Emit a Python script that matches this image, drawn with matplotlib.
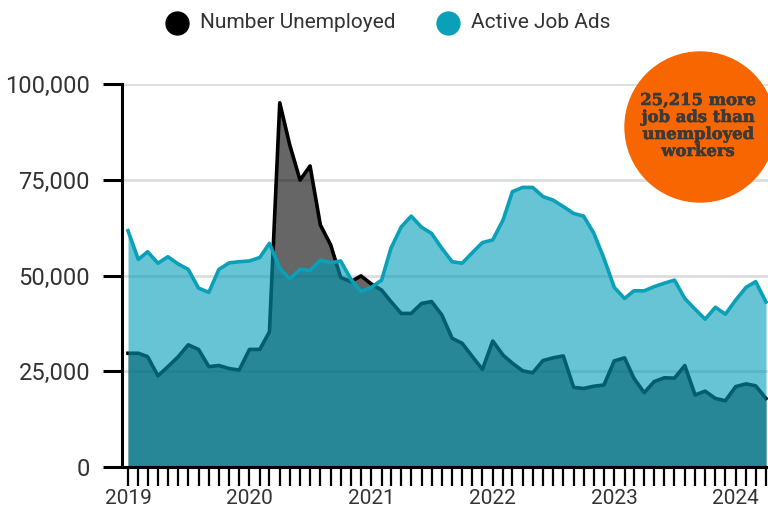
import matplotlib
matplotlib.use("Agg")
import matplotlib.pyplot as plt
import matplotlib.dates as mdates
import matplotlib.patheffects as pe
from matplotlib.patches import Circle
from matplotlib.lines import Line2D
from matplotlib.ticker import FuncFormatter
import pandas as pd

# monthly data, Jan 2019 - Apr 2024
months = pd.date_range("2019-01-01", periods=64, freq="MS")

active_job_ads = [
    61700, 54200, 56200, 53200, 54900, 53000, 51600, 46700, 45600, 51600, 53300, 53600,
    53800, 54700, 58400, 51900, 49100, 51600, 51300, 54000, 53300, 53800, 49000, 45800,
    46900, 48800, 57100, 62700, 65500, 62600, 61000, 57100, 53600, 53200, 56000, 58600,
    59300, 64500, 71900, 73000, 73000, 70600, 69700, 68000, 66200, 65500, 61000, 54500,
    46900, 44000, 46000, 46000, 47100, 48000, 48800, 44000, 41200, 38600, 41700, 39900,
    43600, 46900, 48400, 43100,
]
number_unemployed = [
    29700, 29700, 28800, 23800, 26200, 28800, 31900, 30700, 26200, 26500, 25700, 25300,
    30700, 30700, 35300, 95100, 84100, 74900, 78600, 63200, 58000, 49500, 48400, 49900,
    47800, 46200, 43200, 40100, 40100, 42700, 43200, 39700, 33600, 32300, 28800, 25500,
    32900, 29200, 27100, 25100, 24600, 27800, 28500, 29000, 20800, 20500, 21100, 21400,
    27700, 28500, 23200, 19400, 22300, 23300, 23200, 26500, 18800, 19800, 17900, 17300,
    21000, 21700, 21200, 17885,
]
y_ticks = [0, 25000, 50000, 75000, 100000]
gap = active_job_ads[-1] - number_unemployed[-1]
note = f"{gap:,} more\njob ads than\nunemployed\nworkers"

TEAL = "#009eb9"
TEAL_LINE = "#0aa0b8"
TXT = "#333333"

fig = plt.figure(figsize=(7.68, 5.13), dpi=100)
ax = fig.add_axes([122 / 768, 1 - 467 / 513, 1 - 122 / 768, (467 - 84) / 513])

# grid first so it shows faintly through the fills
for v in y_ticks[1:]:
    ax.axhline(v, color="#dddddd", lw=2, zorder=0)

ax.fill_between(months, 0, number_unemployed, color="black", alpha=0.6, lw=0, zorder=1)
ax.plot(months, number_unemployed, color="black", lw=2.6, zorder=2)
ax.fill_between(months, 0, active_job_ads, color=TEAL, alpha=0.6, lw=0, zorder=3)
ax.plot(months, active_job_ads, color=TEAL_LINE, lw=2.6, zorder=4)

ax.set_ylim(0, 100000)
ax.set_xlim(months[0] - pd.Timedelta(days=18), months[-1] + pd.Timedelta(days=6))

ax.set_yticks(y_ticks)
ax.yaxis.set_major_formatter(FuncFormatter(lambda v, p: f"{int(v):,}"))
ax.tick_params(axis="y", length=14, width=2.2, pad=9, labelsize=17, labelcolor=TXT)
for lab in ax.get_yticklabels():
    lab.set_family("Roboto")

ax.xaxis.set_major_locator(mdates.MonthLocator())
ax.xaxis.set_major_formatter(FuncFormatter(
    lambda v, p: str(mdates.num2date(v).year) if mdates.num2date(v).month == 1 else ""))
ax.tick_params(axis="x", length=14, width=1.6, pad=2, labelsize=15, labelcolor=TXT)
for lab in ax.get_xticklabels():
    lab.set_family(["Liberation Sans Narrow", "Roboto"])

for s in ["top", "right"]:
    ax.spines[s].set_visible(False)
ax.spines["left"].set_linewidth(2.2)
ax.spines["bottom"].set_linewidth(2.2)
ax.spines["left"].set_zorder(5)
ax.spines["bottom"].set_zorder(5)

# legend drawn by hand at the top
legend_items = [("Number Unemployed", "black", 177), ("Active Job Ads", TEAL_LINE, 448)]
for label, col, px in legend_items:
    fig.add_artist(Line2D([px / 768], [1 - 23 / 513], marker="o", markersize=16.5,
                          color=col, linestyle="", transform=fig.transFigure))
    fig.text((px + 23) / 768, 1 - 23 / 513, label, fontsize=15, family="Roboto",
             color=TXT, va="center", ha="left")

# orange call-out bubble
fig.add_artist(Circle((7.00, (513 - 127) / 100), 0.75, color="#f76600",
                      transform=fig.dpi_scale_trans, zorder=6))
fig.text(698 / 768, 1 - 126 / 513, note, ha="center", va="center", fontsize=11.8,
         family="DejaVu Serif", weight="bold", color="#3a3a3a", linespacing=1.0, zorder=7,
         path_effects=[pe.withStroke(linewidth=0.4, foreground="#3a3a3a")])

fig.savefig("out.png", dpi=100)
